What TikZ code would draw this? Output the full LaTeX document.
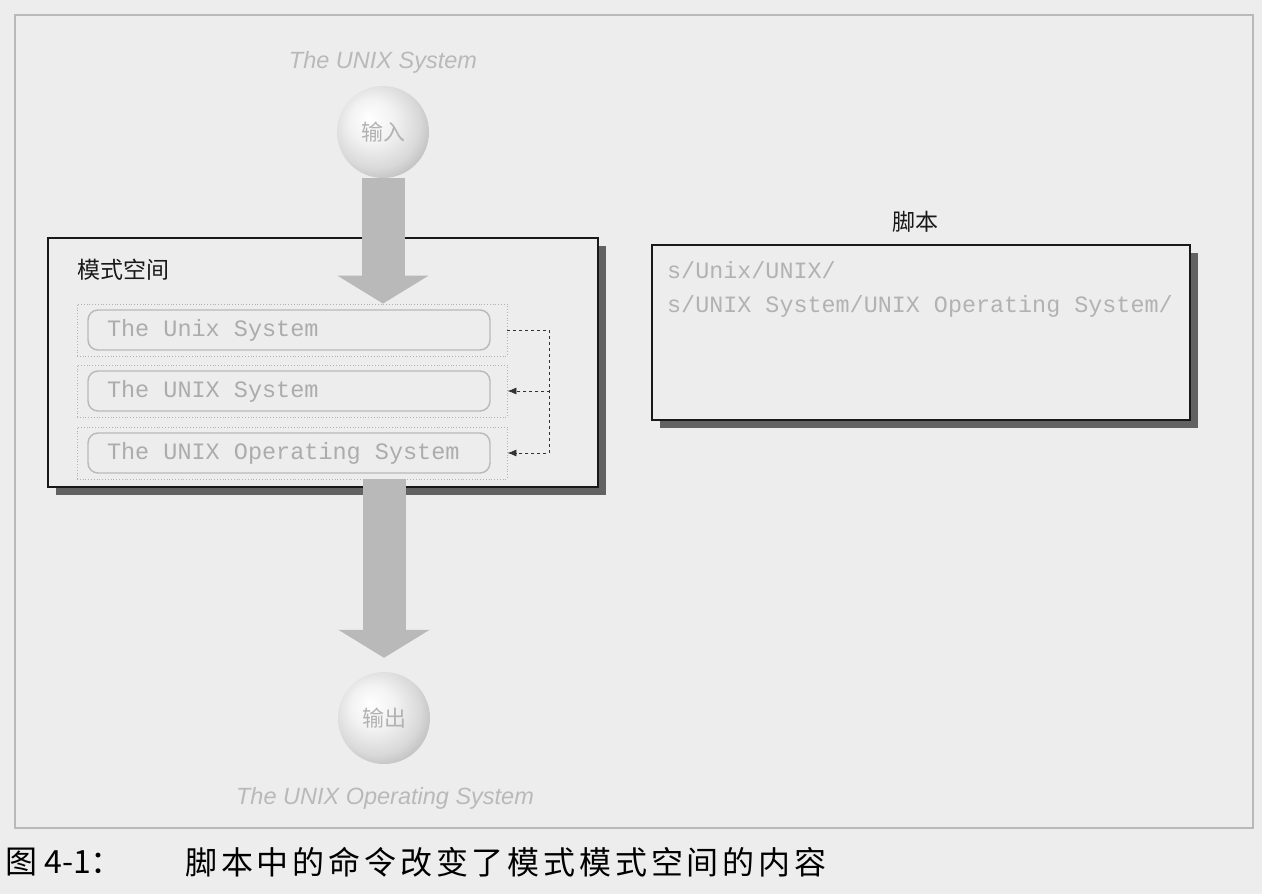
\documentclass[tikz,border=0pt]{standalone}
\usepackage{fontspec}
\newfontfamily\cjk{Noto Sans CJK SC}
\newfontfamily\cjkwide{Noto Sans CJK SC}[LetterSpace=12]
\newfontfamily\lsans{Liberation Sans}
\newfontfamily\lmono{Liberation Mono}
\usetikzlibrary{arrows.meta,shadows,calc}
\definecolor{bg}{gray}{0.93}
\pgfdeclareradialshading{sphere}{\pgfpoint{-8bp}{8bp}}{color(0bp)=(white); color(12bp)=(gray!10); color(24bp)=(gray!30); color(33bp)=(gray!58); color(50bp)=(gray!58)}
\begin{document}
\begin{tikzpicture}[x=1pt,y=-1pt,
  psbox/.style={draw=gray!20!black, line width=1.3pt, fill=bg, inner sep=0,
    drop shadow={shadow xshift=8pt, shadow yshift=-8pt, fill=gray!50!black, opacity=0.8}},
  outerrow/.style={draw=gray!60, dotted, line width=0.8pt, minimum width=430pt, minimum height=52pt, inner sep=0},
  innerrow/.style={draw=gray!55, line width=1.4pt, rounded corners=10pt, inner xsep=19pt, inner ysep=0pt,
    minimum height=40pt, font=\lmono\fontsize{23.5}{26}\selectfont, text=gray!65},
  ball/.style={circle, minimum size=92pt, shading=sphere, inner sep=0, font=\cjk\fontsize{22}{24}\selectfont, text=gray!60},
  block/.style={line width=43pt, draw=gray!55, -{Triangle[width=90pt,length=28pt]}},
  dconn/.style={draw=gray!40!black, dash pattern=on 3pt off 3pt, line width=0.8pt, -{Latex[length=9pt,width=7pt]}},
  flowlabel/.style={font=\lsans\itshape\fontsize{23.5}{26}\selectfont, text=gray!55},
  boxlabel/.style={font=\cjk\fontsize{23}{25}\selectfont, text=gray!20!black}
]
\useasboundingbox (0,0) rectangle (1262,894);
\fill[bg] (0,0) rectangle (1262,894);
\draw[gray!55, line width=1.5pt] (15,15) rectangle (1253,828);

% pattern space
\node[psbox, minimum width=550pt, minimum height=249pt] (ps) at (323,362.5) {};
\node[boxlabel, anchor=west] (pslabel) at (74,270) {模式空间};
\node[outerrow] (r1) at (292,330) {};
\node[outerrow] (r2) at (292,391) {};
\node[outerrow] (r3) at (292,453) {};
\node[innerrow] (t1) at (289,330) {\makebox[364pt][l]{The Unix System}};
\node[innerrow] (t2) at (289,391) {\makebox[364pt][l]{The UNIX System}};
\node[innerrow] (t3) at (289,453) {\makebox[364pt][l]{The UNIX Operating System}};

% script
\node[psbox, minimum width=538pt, minimum height=175pt] (sb) at (921,332.5) {};
\node[boxlabel] (sblabel) at (915,222) {脚本};
\node[anchor=north west, align=left, font=\lmono\fontsize{23.4}{34}\selectfont, text=gray!60, inner sep=0] (code) at (667,261)
  {s/Unix/UNIX/\\s/UNIX System/UNIX Operating System/};

% input / output
\node[flowlabel] (topl) at (383,62) {The UNIX System};
\node[ball] (in) at (383,132) {输入};
\node[ball] (out) at (384,718) {输出};
\node[flowlabel] (botl) at (385,798) {The UNIX Operating System};

\draw[block] (in.south) -- (in.south |- r1.north);
\draw[block] (r3.south -| out.north) -- ($(out.north)+(0,-14)$);

% dashed connectors
\draw[dconn] (r1.east) -- ++(42,0) coordinate (j) |- (r3.east);
\draw[dconn] (j) |- (r2.east);

% caption
\node[anchor=west, font=\cjk\fontsize{32}{34}\selectfont, inner sep=0] (cap1) at (5,862) {图 4-1：};
\node[anchor=west, font=\cjkwide\fontsize{32}{34}\selectfont, inner sep=0] (cap2) at (185,862) {脚本中的命令改变了模式模式空间的内容};
\end{tikzpicture}
\end{document}
